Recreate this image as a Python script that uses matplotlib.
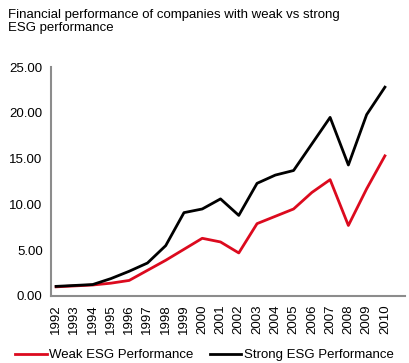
import matplotlib
matplotlib.use("Agg")
import matplotlib.pyplot as plt

plt.rcParams['font.family'] = ['Liberation Sans', 'DejaVu Sans']

years = list(range(1992, 2011))
weak = [1.0, 1.1, 1.2, 1.4, 1.7, 2.8, 3.9, 5.1, 6.3, 5.9, 4.7, 7.9, 8.7, 9.5,
        11.3, 12.7, 7.7, 11.7, 15.3]
strong = [1.05, 1.15, 1.25, 1.9, 2.7, 3.6, 5.5, 9.1, 9.5, 10.6, 8.8, 12.3,
          13.2, 13.7, 16.6, 19.5, 14.3, 19.8, 22.8]

fig = plt.figure(figsize=(4.09, 3.63), dpi=100)
ax = fig.add_axes([51/409, 1 - 296/363, 354/409, 229/363])

ax.plot(years, weak, color='#DC0A1E', linewidth=2, label='Weak ESG Performance')
ax.plot(years, strong, color='black', linewidth=2, label='Strong ESG Performance')

ax.set_xlim(1991.72, 2011.1)
ax.set_ylim(0, 25)
ax.set_yticks([0, 5, 10, 15, 20, 25])
ax.set_yticklabels(['%.2f' % v for v in [0, 5, 10, 15, 20, 25]], fontsize=9.5)
ax.set_xticks(years)
ax.set_xticklabels([str(y) for y in years], rotation=90, fontsize=9.5)
ax.tick_params(length=0, pad=6)

for s in ['top', 'right']:
    ax.spines[s].set_visible(False)
for s in ['left', 'bottom']:
    ax.spines[s].set_color('#8c8c8c')
    ax.spines[s].set_linewidth(1.5)

fig.text(8/409, 1 - 9/363, 'Financial performance of companies with weak vs strong\nESG performance',
         ha='left', va='top', fontsize=9.5, linespacing=1.15)

fig.legend(loc='center', bbox_to_anchor=(0.5, 1 - 355/363), ncol=2, frameon=False,
           fontsize=9.5, handlelength=2.4, handletextpad=0.2, columnspacing=1.2)

fig.savefig('out.png', dpi=100)
